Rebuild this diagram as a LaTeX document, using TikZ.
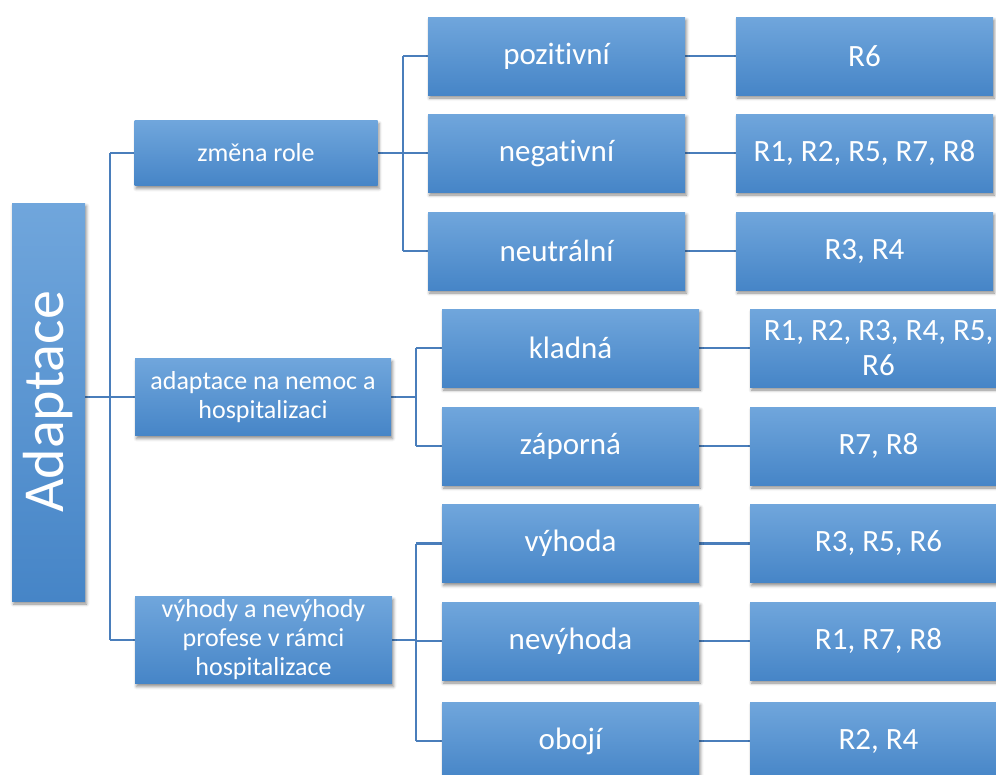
\documentclass[tikz,border=0pt]{standalone}
\usepackage{fontspec}
\setmainfont{Carlito}[RawFeature={-liga;-clig;-calt;-dlig}]
\usetikzlibrary{shadows.blur}
\pgfdeclarelayer{bg}
\pgfsetlayers{bg,main}

\definecolor{boxtop}{RGB}{112,166,220}
\definecolor{boxmid}{RGB}{86,152,217}
\definecolor{boxbot}{RGB}{70,133,199}
\definecolor{linkc}{RGB}{74,126,187}

\tikzset{
  box/.style={rectangle, inner sep=2pt, text=white, align=center,
    top color=boxtop, middle color=boxmid, bottom color=boxbot,
    blur shadow={shadow xshift=1.5pt, shadow yshift=-3pt,
      shadow blur radius=3pt, shadow opacity=45}},
  rootbox/.style={box, minimum width=73pt, minimum height=398pt},
  catbox/.style={box, minimum width=257pt,
    font=\fontsize{26}{29}\selectfont},
  subbox/.style={box, minimum width=257pt, minimum height=78pt,
    font=\fontsize{31}{35}\selectfont},
  refbox/.style={subbox},
  conn/.style={draw=linkc, line width=2.2pt}
}

\begin{document}
\begin{tikzpicture}[x=1pt, y=-1pt]
  \clip (0,0) rectangle (996,774);

  % root
  \node[rootbox] (adaptace) at (48.5,402) {};
  \node[rotate=90, text=white, font=\fontsize{58}{60}\selectfont]
    (adaptacetext) at (adaptace.center) {Adaptace};

  % first level
  \node[catbox, minimum width=243pt, minimum height=65pt] (role) at (256,153) {změna role};
  \node[catbox, minimum width=256pt, minimum height=77pt] (nemoc) at (263,397)
    {adaptace na nemoc a\\hospitalizaci};
  \node[catbox, minimum width=257pt, minimum height=87pt] (vyhody) at (263.5,640)
    {výhody a nevýhody\\profese v rámci\\hospitalizace};

  % second level
  \node[subbox] (poz) at (556.5,56) {pozitivní};
  \node[subbox] (neg) at (556.5,153) {negativní};
  \node[subbox] (neu) at (556.5,251) {neutrální};
  \node[subbox] (kladna) at (570.5,348) {kladná};
  \node[subbox] (zaporna) at (570.5,446) {záporná};
  \node[subbox] (vyhoda) at (570.5,543.5) {výhoda};
  \node[subbox] (nevyhoda) at (570.5,641) {nevýhoda};
  \node[subbox] (oboji) at (570.5,741) {obojí};

  % third level
  \node[refbox] (r1) at (864.5,56) {R6};
  \node[refbox] (r2) at (864.5,153) {R1, R2, R5, R7, R8};
  \node[refbox] (r3) at (864.5,251) {R3, R4};
  \node[refbox] (r4) at (878.5,348) {R1, R2, R3, R4, R5,\\R6};
  \node[refbox] (r5) at (878.5,446) {R7, R8};
  \node[refbox] (r6) at (878.5,543.5) {R3, R5, R6};
  \node[refbox] (r7) at (878.5,641) {R1, R7, R8};
  \node[refbox] (r8) at (878.5,741) {R2, R4};

  % connector junctions
  \coordinate (j0) at (110,0);
  \coordinate (j1) at (403,0);
  \coordinate (j2) at (416,0);

  \begin{pgfonlayer}{bg}
    % root to first level
    \draw[conn] (adaptace.east |- nemoc.west) -- (nemoc.west);
    \draw[conn] (j0 |- role.west) -- (j0 |- vyhody.west);
    \draw[conn] (j0 |- role.west) -- (role.west);
    \draw[conn] (j0 |- vyhody.west) -- (vyhody.west);

    % first level to second level
    \draw[conn] (role.east) -- (j1 |- role.east);
    \draw[conn] (j1 |- poz.west) -- (j1 |- neu.west);
    \draw[conn] (j1 |- poz.west) -- (poz.west);
    \draw[conn] (j1 |- neg.west) -- (neg.west);
    \draw[conn] (j1 |- neu.west) -- (neu.west);

    \draw[conn] (nemoc.east) -- (j2 |- nemoc.east);
    \draw[conn] (j2 |- kladna.west) -- (j2 |- zaporna.west);
    \draw[conn] (j2 |- kladna.west) -- (kladna.west);
    \draw[conn] (j2 |- zaporna.west) -- (zaporna.west);

    \draw[conn] (vyhody.east) -- (j2 |- vyhody.east);
    \draw[conn] (j2 |- vyhoda.west) -- (j2 |- oboji.west);
    \draw[conn] (j2 |- vyhoda.west) -- (vyhoda.west);
    \draw[conn] (j2 |- nevyhoda.west) -- (nevyhoda.west);
    \draw[conn] (j2 |- oboji.west) -- (oboji.west);

    % second level to third level
    \draw[conn] (poz.east) -- (r1.west);
    \draw[conn] (neg.east) -- (r2.west);
    \draw[conn] (neu.east) -- (r3.west);
    \draw[conn] (kladna.east) -- (r4.west);
    \draw[conn] (zaporna.east) -- (r5.west);
    \draw[conn] (vyhoda.east) -- (r6.west);
    \draw[conn] (nevyhoda.east) -- (r7.west);
    \draw[conn] (oboji.east) -- (r8.west);
  \end{pgfonlayer}
\end{tikzpicture}
\end{document}
